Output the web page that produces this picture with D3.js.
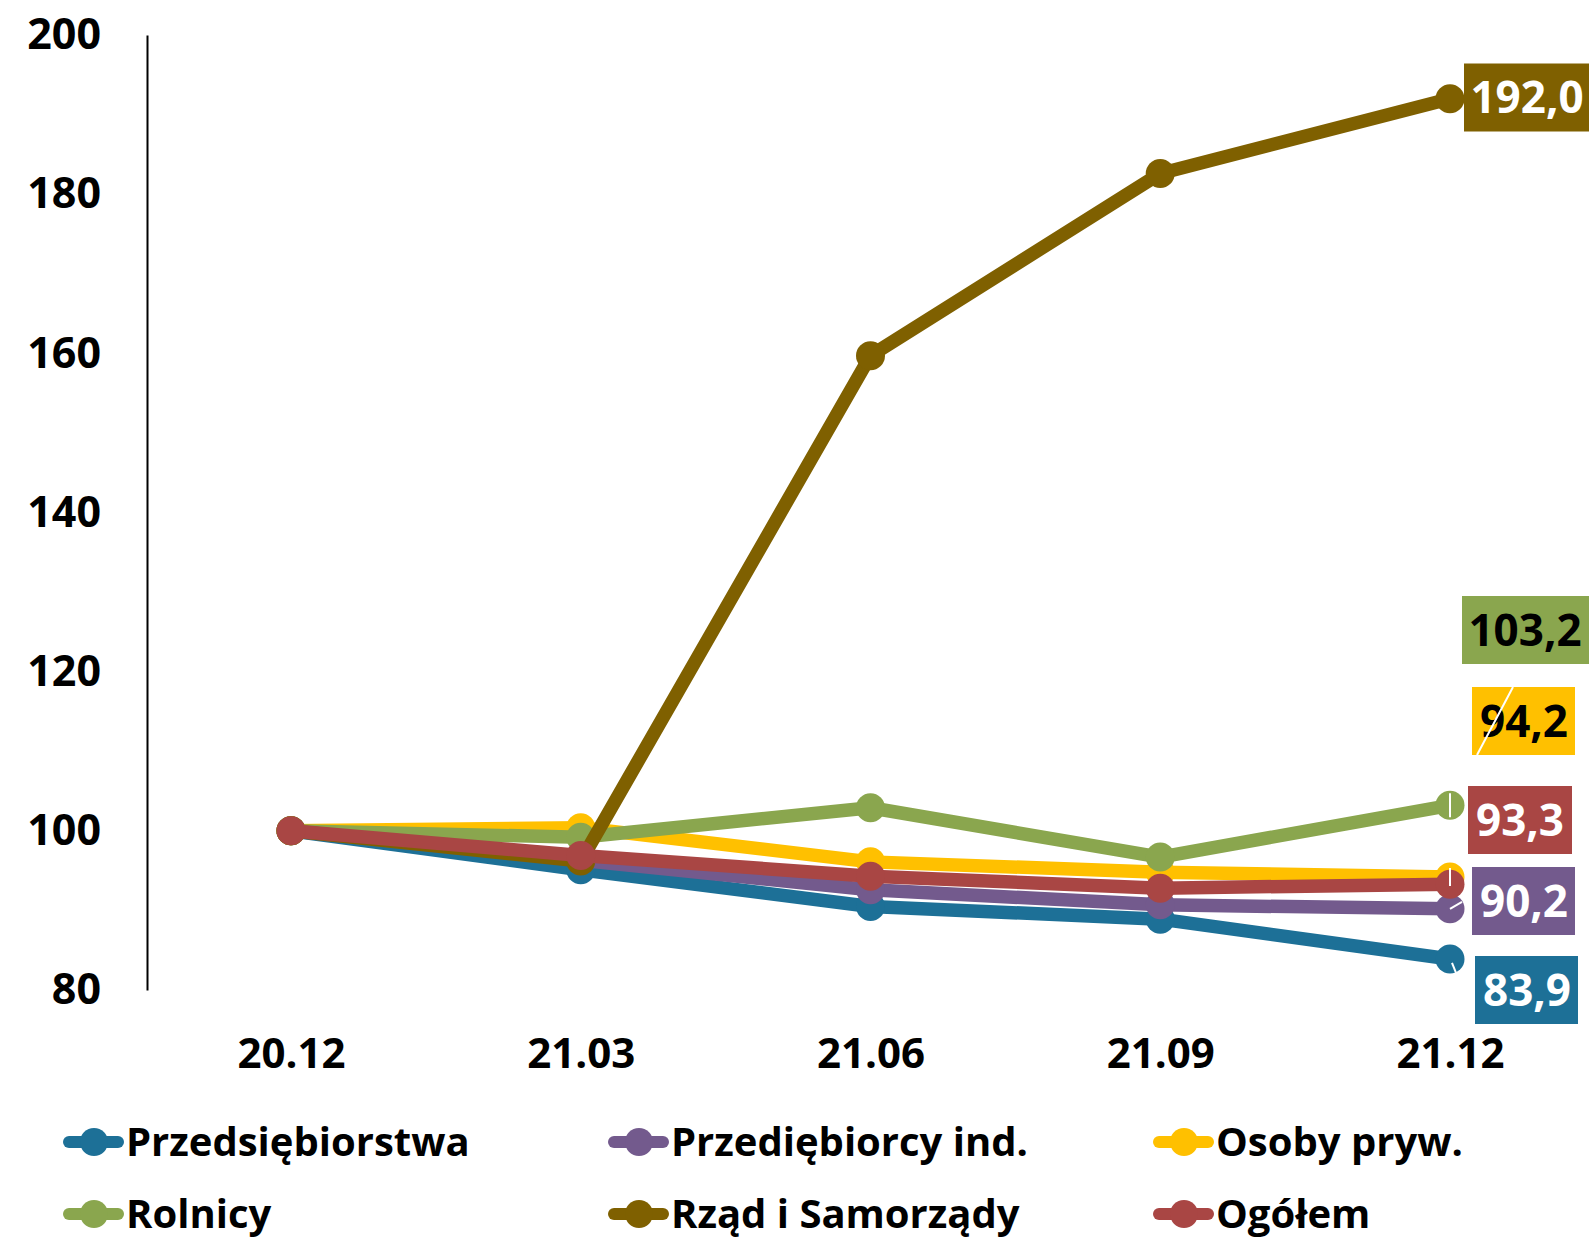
<!DOCTYPE html>
<html><head><meta charset="utf-8">
<script src="https://cdn.jsdelivr.net/npm/d3@7"></script>
<style>
html,body{margin:0;padding:0;background:#fff;overflow:hidden}
text{font-family:"Open Sans",sans-serif;font-weight:700}
</style></head>
<body><svg id="c" width="1589" height="1240"></svg>
<script>
const categories = ["20.12","21.03","21.06","21.09","21.12"];
const seriesNames = ["Przedsiębiorstwa","Przediębiorcy ind.","Osoby pryw.","Rolnicy","Rząd i Samorządy","Ogółem"];
const przedsiebiorstwa = [100, 95.1, 90.5, 88.9, 83.9];
const przedsiebiorcyInd = [100, 96.3, 92.6, 90.7, 90.2];
const osobyPryw = [100, 100.4, 96.1, 94.8, 94.2];
const rolnicy = [100, 99.2, 102.9, 96.7, 103.2];
const rzad = [100, 96.2, 159.7, 182.6, 192.0];
const ogolem = [100, 96.9, 94.3, 92.8, 93.3];
const yTicks = [80,100,120,140,160,180,200];
const lastLabels = ["83,9","90,2","94,2","103,2","192,0","93,3"];

const colors = ["#1D7097","#735A8D","#FFC000","#8AA64E","#7F6000","#A94644"];
const labelText = ["#fff","#fff","#000","#000","#fff","#fff"];
// label box layout: left x, centre y, width, text centre offset (layout only)
const labelBox = [[1475,990,103,52],[1472,901,103,52],[1472,721,103,52],[1462,630,130,63],[1464,97.5,130,63],[1468,820,104,52]];

const values = [przedsiebiorstwa, przedsiebiorcyInd, osobyPryw, rolnicy, rzad, ogolem];
const series = seriesNames.map((n,i)=>({name:n, values:values[i], color:colors[i]}));

const svg = d3.select("#c");
const x = d3.scalePoint().domain(categories).range([291,1450]);
const y = d3.scaleLinear().domain([80,200]).range([990,35]);

// y axis
const ya = svg.append("g").attr("transform","translate(147,0)")
  .call(d3.axisLeft(y).tickValues(yTicks).tickSize(0).tickPadding(46));
ya.select(".domain").attr("stroke","#000").attr("stroke-width",2);
ya.selectAll("text").attr("font-size",43).attr("fill","#000").attr("font-family","Open Sans").attr("font-weight",700);

// x axis
const xa = svg.append("g").attr("transform","translate(0,1025)")
  .call(d3.axisBottom(x).tickSize(0).tickPadding(0));
xa.select(".domain").remove();
xa.selectAll("text").attr("font-size",42).attr("fill","#000").attr("dy","1.03em").attr("font-family","Open Sans").attr("font-weight",700);

const line = d3.line().x((d,i)=>x(categories[i])).y(d=>y(d));
series.forEach(s=>{
  const g = svg.append("g");
  g.append("path").attr("d",line(s.values)).attr("fill","none")
    .attr("stroke",s.color).attr("stroke-width",13.5).attr("stroke-linejoin","round");
  g.selectAll("circle").data(s.values).join("circle")
    .attr("cx",(d,i)=>x(categories[i])).attr("cy",d=>y(d)).attr("r",14.5).attr("fill",s.color);
});

// data labels on last point
series.forEach((s,i)=>{
  const [bx,by,bw,tc] = labelBox[i];
  const h = 68;
  svg.append("rect").attr("x",bx).attr("y",by-h/2).attr("width",bw).attr("height",h).attr("fill",s.color);
  svg.append("text").attr("x",bx+tc).attr("y",by).attr("dy","0.36em").attr("text-anchor","middle")
    .attr("font-size",44).attr("fill",labelText[i]).text(lastLabels[i]);
});
// leader lines
const lx = x(categories[4]);
svg.append("line").attr("x1",1513).attr("y1",687).attr("x2",1477).attr("y2",755).attr("stroke","#fff").attr("stroke-width",2);
[[3,0,-12,0,12],[2,0,-9,0,9],[1,0,0,12,-7],[0,2,4,6,14]].forEach(([si,dx1,dy1,dx2,dy2])=>{
  const cy = y(series[si].values[4]);
  svg.append("line").attr("x1",lx+dx1).attr("y1",cy+dy1).attr("x2",lx+dx2).attr("y2",cy+dy2)
    .attr("stroke","#fff").attr("stroke-width",2);
});

// legend
const legX = [63,608,1153], legY = [1142,1214];
series.forEach((s,i)=>{
  const col = i%3, row = Math.floor(i/3);
  const g = svg.append("g").attr("transform",`translate(${legX[col]},${legY[row]})`);
  g.append("line").attr("x1",6).attr("x2",55).attr("y1",0).attr("y2",0)
    .attr("stroke",s.color).attr("stroke-width",12).attr("stroke-linecap","round");
  g.append("circle").attr("cx",31).attr("cy",0).attr("r",14).attr("fill",s.color);
  g.append("text").attr("x",63).attr("y",0).attr("dy","0.36em").attr("font-size",40).attr("fill","#000").text(s.name);
});
</script></body></html>
